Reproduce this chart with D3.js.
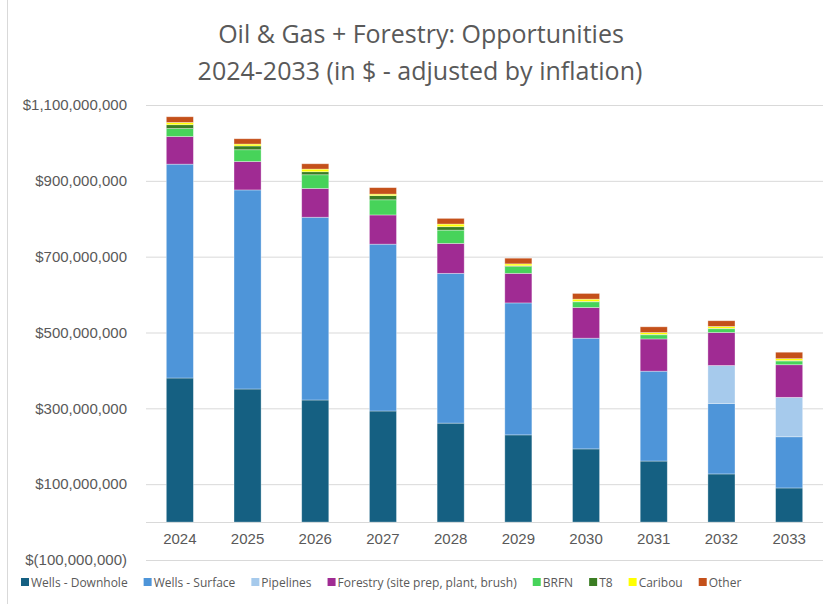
<!DOCTYPE html>
<html>
<head>
<meta charset="utf-8">
<script src="https://cdn.jsdelivr.net/npm/d3@7"></script>
<style>
  body { margin: 0; background: #fff; }
  svg { display: block; font-family: "Open Sans", "Noto Sans", sans-serif; }
</style>
</head>
<body>
<script>
// values in millions of dollars
const years = ['2024', '2025', '2026', '2027', '2028', '2029', '2030', '2031', '2032', '2033'];
const seriesNames = ['Wells - Downhole', 'Wells - Surface', 'Pipelines', 'Forestry (site prep, plant, brush)', 'BRFN', 'T8', 'Caribou', 'Other'];
const wellsDownhole = [380, 351, 322, 293, 261, 230, 193, 161, 127, 90];
const wellsSurface  = [564, 525, 482, 440, 395, 348, 292, 237, 186, 135];
const pipelines     = [0, 0, 0, 0, 0, 0, 0, 0, 100, 104];
const forestry      = [73, 75, 76, 77, 79, 78, 81, 85, 87, 86];
const brfn          = [21, 31, 36, 40, 35, 18, 15, 11, 10, 10];
const t8            = [10, 10, 8, 11, 9, 2, 1, 1, 1, 1];
const caribou       = [6, 5, 7, 4, 7, 5, 6, 5, 5, 5];
const other         = [15, 14, 14, 17, 15, 15, 15, 15, 15, 17];
const yTicks = [-100, 100, 300, 500, 700, 900, 1100];
const colors = ['#156082', '#4e95d9', '#a6caec', '#a02b93', '#47d35a', '#3b7d23', '#ffff00', '#c4501a'];

const base = {};
base.width = 823;
base.height = 604;

const svg = d3.select(document.body)
  .append('svg')
  .attr('width', base.width)
  .attr('height', base.height);

drawFrame();
const scales = makeScales();
drawGrid(scales);
drawBars(scales);
drawTitle();
drawLegend();

function makeScales(){
  const x = d3.scaleBand()
    .domain(years)
    .range([146, 823])
    .paddingInner(0.6)
    .paddingOuter(0.3);
  const y = d3.scaleLinear()
    .domain([-100, 1100])
    .range([560, 105]);
  return {x, y};
}

function drawFrame(){
  svg.append('line')
    .attr('x1', 7.5).attr('x2', 7.5)
    .attr('y1', 0).attr('y2', base.height)
    .attr('stroke', '#d9d9d9');
}

function fmtMoney(v){
  const s = d3.format(',')(Math.abs(v) * 1e6);
  return v < 0 ? '$(' + s + ')' : '$' + s;
}

function drawGrid({x, y}){
  const yAxis = d3.axisLeft(y)
    .tickValues(yTicks)
    .tickSize(-(823 - 146))
    .tickPadding(19)
    .tickFormat(fmtMoney);

  const g = svg.append('g')
    .attr('transform', 'translate(146,0)')
    .call(yAxis);
  g.select('.domain').remove();
  g.selectAll('.tick line').attr('stroke', '#d9d9d9');
  g.selectAll('.tick text')
    .attr('fill', '#595959')
    .style('font-size', '15px');

  // zero line (category axis)
  svg.append('line')
    .attr('x1', 146).attr('x2', 823)
    .attr('y1', Math.round(y(0)) + 0.5).attr('y2', Math.round(y(0)) + 0.5)
    .attr('stroke', '#d9d9d9');

  const xAxis = d3.axisBottom(x).tickSize(0).tickPadding(11);
  const gx = svg.append('g')
    .attr('transform', `translate(0,${y(0)})`)
    .call(xAxis);
  gx.select('.domain').remove();
  gx.selectAll('.tick text')
    .attr('fill', '#595959')
    .style('font-size', '15px');
}

function drawBars({x, y}){
  const table = years.map((yr, i) => ({
    year: yr,
    'Wells - Downhole': wellsDownhole[i],
    'Wells - Surface': wellsSurface[i],
    'Pipelines': pipelines[i],
    'Forestry (site prep, plant, brush)': forestry[i],
    'BRFN': brfn[i],
    'T8': t8[i],
    'Caribou': caribou[i],
    'Other': other[i]
  }));
  const stack = d3.stack().keys(seriesNames)(table);

  svg.append('g')
    .selectAll('g')
    .data(stack)
    .enter()
    .append('g')
    .attr('fill', (d, i) => colors[i])
    .selectAll('rect')
    .data(d => d.filter(p => p[1] > p[0]))
    .enter()
    .append('rect')
    .attr('x', d => x(d.data.year))
    .attr('width', x.bandwidth())
    .attr('y', d => y(d[1]))
    .attr('height', d => y(d[0]) - y(d[1]))
    .attr('stroke', '#ffffff')
    .attr('stroke-opacity', 0.45)
    .attr('stroke-width', 0.75);
}

function drawTitle(){
  const t = svg.append('text')
    .attr('text-anchor', 'middle')
    .attr('fill', '#595959')
    .style('font-size', '25px');
  t.append('tspan').attr('x', 421).attr('y', 43).text('Oil & Gas + Forestry: Opportunities');
  t.append('tspan').attr('x', 420).attr('y', 80).text('2024-2033 (in $ - adjusted by inflation)');
}

function drawLegend(){
  const lg = svg.append('g').attr('transform', 'translate(21,582)');
  let cx = 0;
  seriesNames.forEach((name, i) => {
    const item = lg.append('g').attr('transform', `translate(${cx},0)`);
    item.append('rect')
      .attr('x', 0).attr('y', -4)
      .attr('width', 8).attr('height', 8)
      .attr('fill', colors[i]);
    const txt = item.append('text')
      .attr('x', 10).attr('y', 4.5)
      .attr('fill', '#595959')
      .style('font-size', '12px')
      .text(name);
    cx += 10 + txt.node().getComputedTextLength() + 16;
  });
}
</script>
</body>
</html>
